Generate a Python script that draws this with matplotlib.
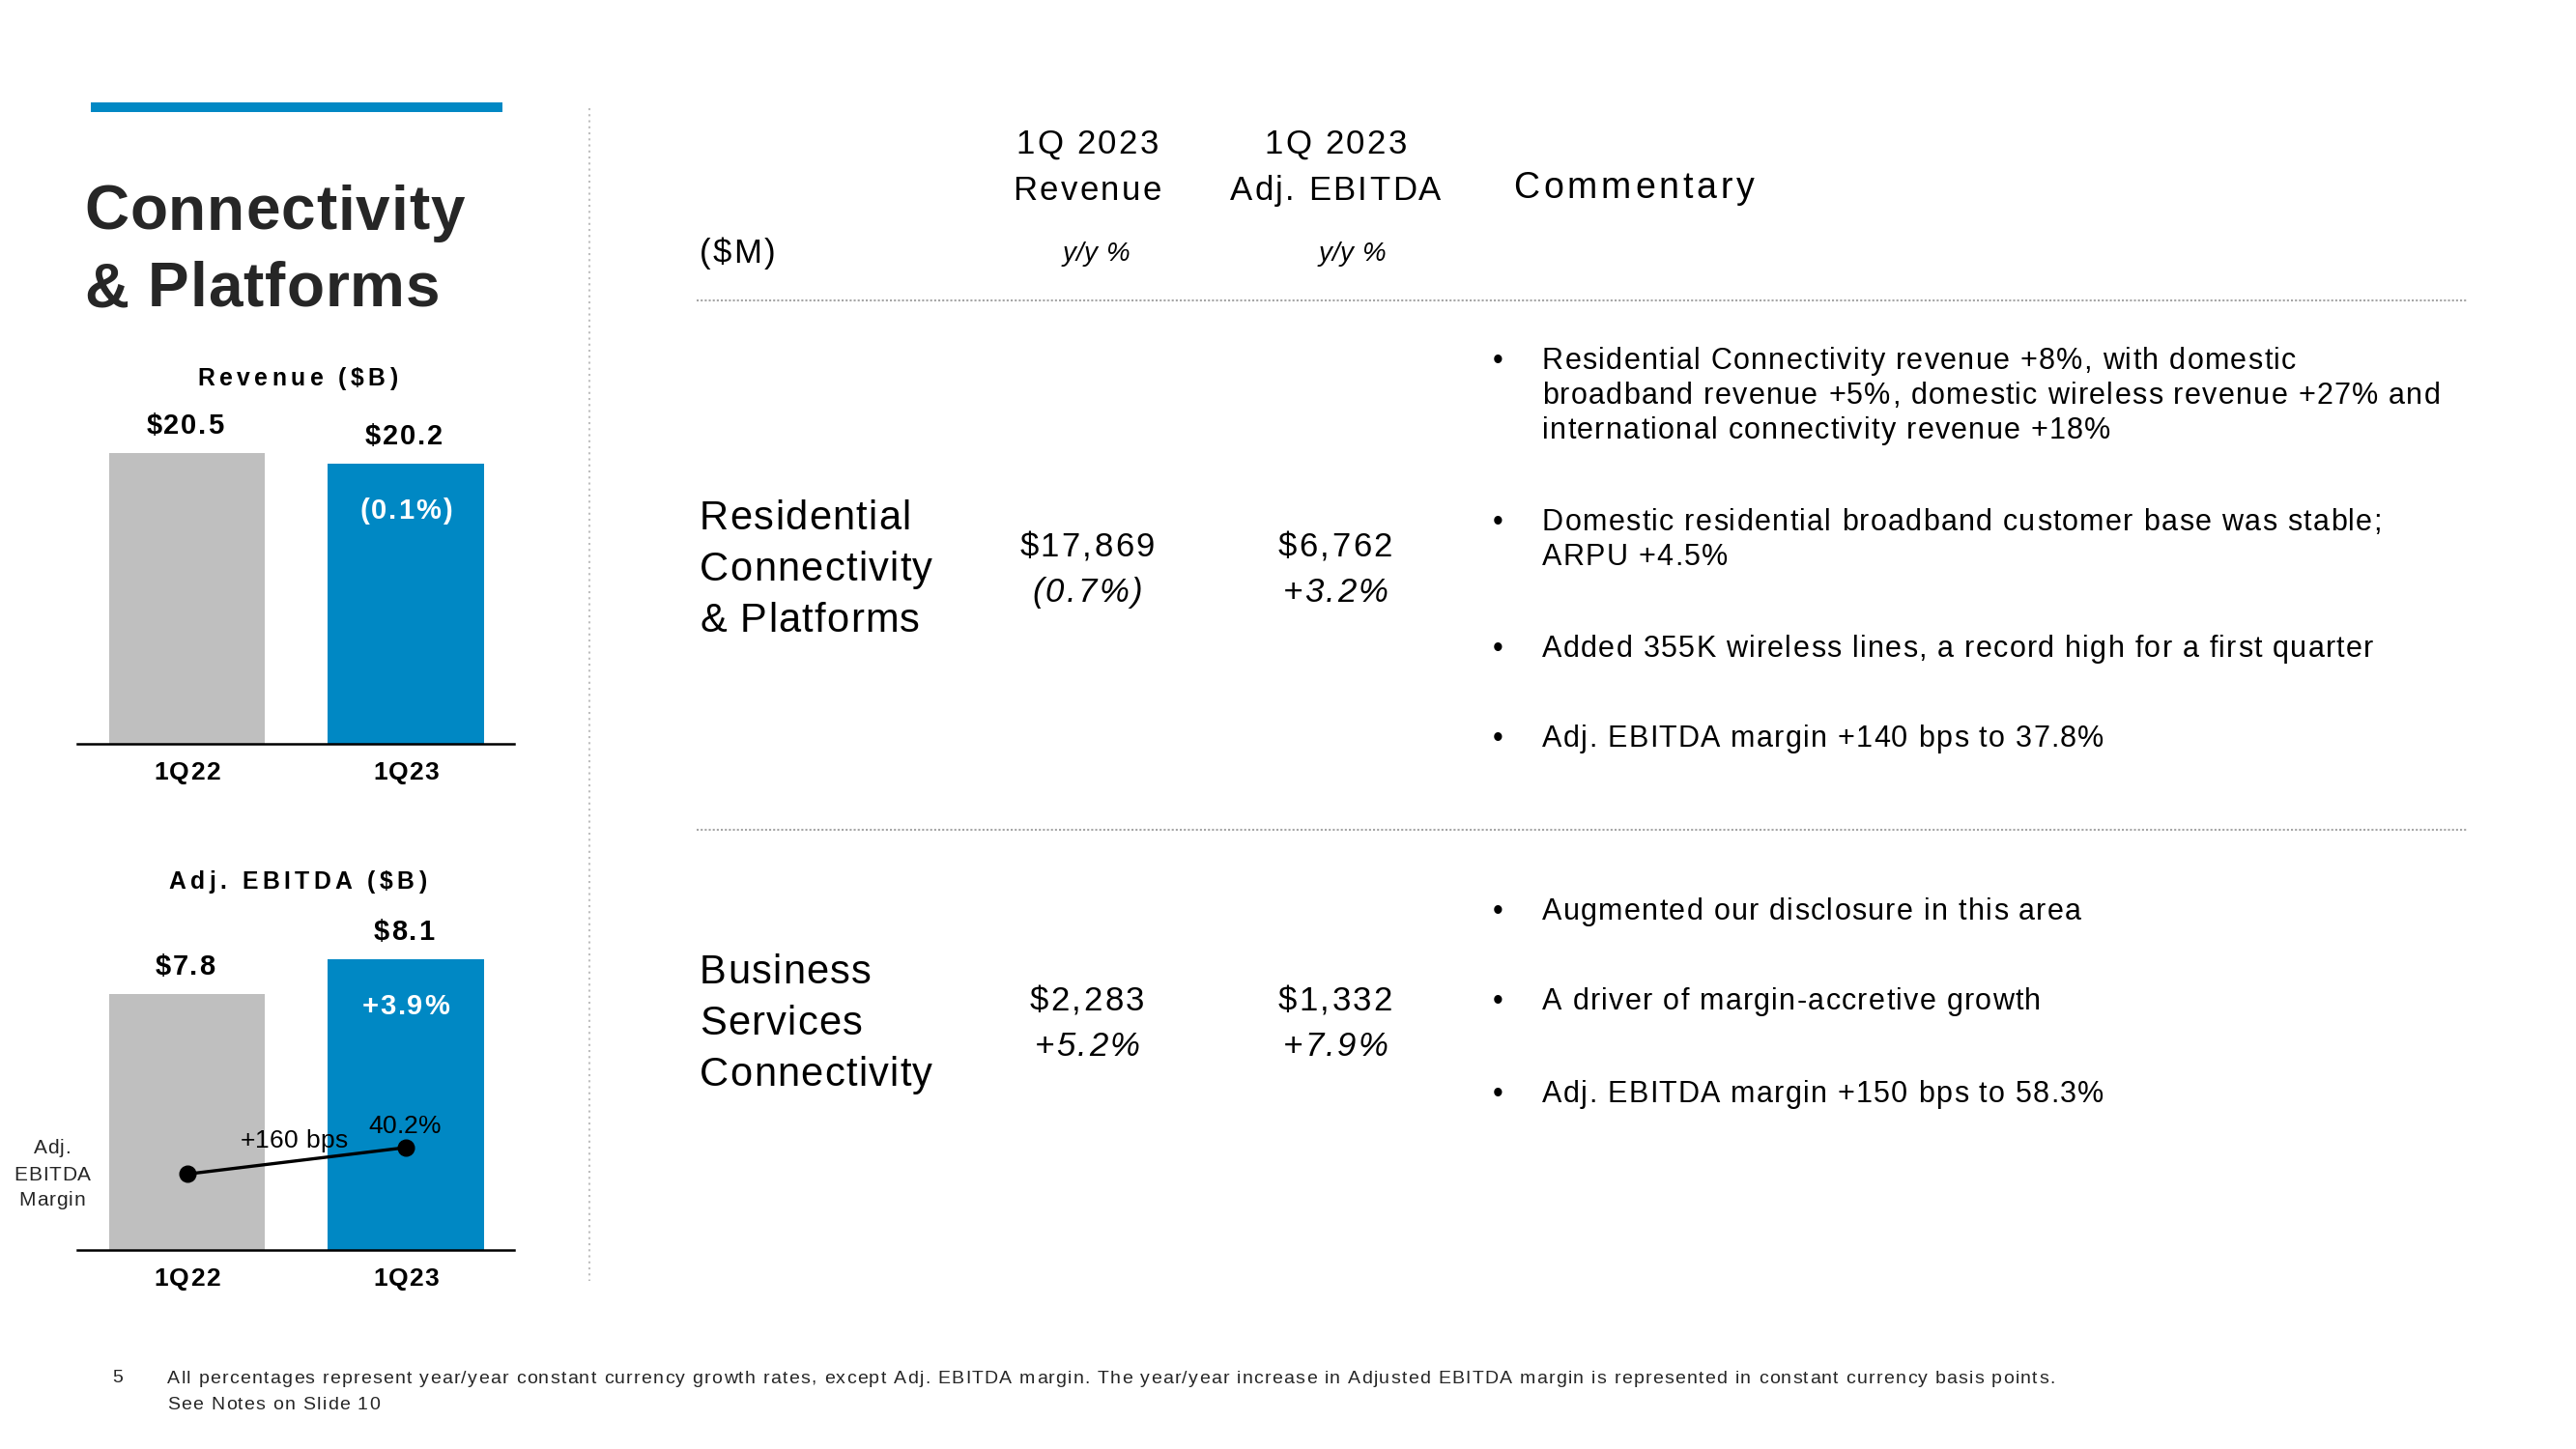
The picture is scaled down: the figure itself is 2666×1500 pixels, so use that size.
import matplotlib
matplotlib.use("Agg")
import matplotlib.pyplot as plt
from matplotlib import font_manager
from matplotlib.ft2font import FT2Font
from matplotlib.transforms import Affine2D, offset_copy
from matplotlib.lines import Line2D
from matplotlib.patches import Rectangle

# ---- data ----
quarters = ['1Q22', '1Q23']
revenue_b = [20.5, 20.2]
revenue_growth = '(0.1%)'
ebitda_b = [7.8, 8.1]
ebitda_growth = '+3.9%'
ebitda_margin = [38.6, 40.2]
margin_change = '+160 bps'

header_cols = [['1Q 2023', 'Revenue'], ['1Q 2023', 'Adj. EBITDA']]
segments = [['Residential', 'Connectivity', '& Platforms'],
            ['Business', 'Services', 'Connectivity']]
seg_revenue = ['$17,869', '$2,283']
seg_revenue_yy = ['(0.7%)', '+5.2%']
seg_ebitda = ['$6,762', '$1,332']
seg_ebitda_yy = ['+3.2%', '+7.9%']
commentary = [
    [['Residential Connectivity revenue +8%, with domestic',
      'broadband revenue +5%, domestic wireless revenue +27% and',
      'international connectivity revenue +18%'],
     ['Domestic residential broadband customer base was stable;',
      'ARPU +4.5%'],
     ['Added 355K wireless lines, a record high for a first quarter'],
     ['Adj. EBITDA margin +140 bps to 37.8%']],
    [['Augmented our disclosure in this area'],
     ['A driver of margin-accretive growth'],
     ['Adj. EBITDA margin +150 bps to 58.3%']],
]
footnote = ['All percentages represent year/year constant currency growth rates, except Adj. EBITDA margin. '
            'The year/year increase in Adjusted EBITDA margin is represented in constant currency basis points.',
            'See Notes on Slide 10']

# ---- style ----
W, H = 2666, 1500
BLUE = '#0088C4'
GREY = '#BFBFBF'
INK = '#000000'
DARK = '#262626'
FAMILY = ['Liberation Sans', 'DejaVu Sans']

fig = plt.figure(figsize=(W / 100, H / 100), dpi=100)
PX = Affine2D().scale(1 / W, -1 / H).translate(0, 1) + fig.transFigure

_fonts = {}


def advances(s, size, weight, style):
    fp = font_manager.FontProperties(family=FAMILY, weight=weight, style=style)
    path = font_manager.findfont(fp)
    if path not in _fonts:
        _fonts[path] = FT2Font(path)
    font = _fonts[path]
    font.set_size(size, 72)
    out = []
    for ch in s:
        g = font.load_char(ord(ch))
        out.append(g.linearHoriAdvance / 65536)
    return out


def spaced(x, y, s, size, track=0.0, weight='normal', style='normal', ha='left',
           color=INK, base=None, dx=0.0, dy=0.0):
    # letter-spaced text, y is the baseline
    base = base if base is not None else PX
    fp = font_manager.FontProperties(family=FAMILY, size=size, weight=weight, style=style)
    adv = advances(s, size, weight, style)
    total = sum(adv) + track * (len(s) - 1)
    pos = dx - {'left': 0, 'center': total / 2, 'right': total}[ha]
    for ch, a in zip(s, adv):
        if not ch.isspace():
            tr = offset_copy(base, fig=fig, x=pos, y=dy, units='points')
            fig.text(x, y, ch, transform=tr, fontproperties=fp, color=color,
                     ha='left', va='baseline')
        pos += a + track


def px_axes(x0, y0, x1, y1):
    return fig.add_axes([x0 / W, 1 - y1 / H, (x1 - x0) / W, (y1 - y0) / H])


def bar_panel(box, values, ylim, growth):
    ax = px_axes(*box)
    xs = range(len(quarters))
    ax.bar(xs, values, width=0.713, color=[GREY, BLUE])
    ax.set_xlim(-0.501, 1.494)
    ax.set_ylim(*ylim)
    for side in ['top', 'right', 'left']:
        ax.spines[side].set_visible(False)
    ax.spines['bottom'].set_linewidth(1.8)
    ax.spines['bottom'].set_color('black')
    ax.set_xticks([])
    ax.set_yticks([])
    ax.patch.set_visible(False)
    for i, v in enumerate(values):
        spaced(i, v, f'${v}', 21, 1.3, weight='bold', ha='center', base=ax.transData, dx=-1.5, dy=14.4)
        spaced(i, 0, quarters[i], 19, 0.8, weight='bold', ha='center',
               base=ax.get_xaxis_transform(), dy=-26.3)
    spaced(1, values[1], growth, 21, 1.3, weight='bold', ha='center', color='white',
           base=ax.transData, dy=-41)
    return ax


# ---- left panel ----
fig.add_artist(Rectangle((94, 106), 426, 10, transform=PX, color=BLUE, lw=0))
spaced(87, 238, 'Connectivity', 46, 0.7, weight='bold', color=DARK)
spaced(87, 317, '& Platforms', 46, 0.7, weight='bold', color=DARK)

spaced(308, 399, 'Revenue ($B)', 17.8, 3.2, weight='bold', ha='center')
bar_panel((80, 420, 532, 770), revenue_b, (12.29, 21.835), revenue_growth)

spaced(308, 920, 'Adj. EBITDA ($B)', 17.8, 3.2, weight='bold', ha='center')
ax_e = bar_panel((80, 940, 532, 1294), ebitda_b, (5.56, 8.552), ebitda_growth)
ax_m = ax_e.twinx()
ax_m.set_ylim(34.03, 54.62)
ax_m.plot(range(len(quarters)), ebitda_margin, color='black', lw=2.4, marker='o', ms=12)
ax_m.axis('off')
spaced(1, ebitda_margin[1], f'{ebitda_margin[1]}%', 19, 0.1, ha='center', base=ax_m.transData, dx=-1, dy=10.8)
spaced(0.5, sum(ebitda_margin) / 2, margin_change, 19, 0.2, ha='center', base=ax_m.transData, dx=-2, dy=10)
for k, word in enumerate(['Adj.', 'EBITDA', 'Margin']):
    spaced(54, 1194.5 + 27 * k, word, 15, 0.7, ha='center', color=DARK)

fig.add_artist(Line2D([610, 610], [112, 1326], transform=PX, color='#BFBFBF', lw=1.5,
                      linestyle=(0, (1, 2))))

# ---- table ----
col_x = [1125, 1382]
for cx, lines in zip(col_x, header_cols):
    spaced(cx, 159, lines[0], 25, 1.7, ha='center')
    spaced(cx, 207, lines[1], 25, 1.7, ha='center')
spaced(1566, 205, 'Commentary', 27, 2.8)
spaced(724, 272, '($M)', 25, 1.7)
spaced(1134, 270, 'y/y %', 20, 0.3, style='italic', ha='center')
spaced(1399, 270, 'y/y %', 20, 0.3, style='italic', ha='center')

for yl in [311, 858.5]:
    fig.add_artist(Line2D([721, 2553], [yl, yl], transform=PX, color='#A6A6A6', lw=1.5,
                          linestyle=(0, (1, 1))))

label_base = [548, 1018]
value_base = [576, 1046]
bullet_base = [[382, 549, 680, 773], [952, 1045, 1141]]
for r in range(len(segments)):
    for k, line in enumerate(segments[r]):
        spaced(724, label_base[r] + 53 * k, line, 30, 0.9)
    spaced(col_x[0], value_base[r], seg_revenue[r], 25, 1.7, ha='center')
    spaced(col_x[0], value_base[r] + 47, seg_revenue_yy[r], 25, 1.7, style='italic', ha='center')
    spaced(col_x[1], value_base[r], seg_ebitda[r], 25, 1.7, ha='center')
    spaced(col_x[1], value_base[r] + 47, seg_ebitda_yy[r], 25, 1.7, style='italic', ha='center')
    for yb, bullet in zip(bullet_base[r], commentary[r]):
        spaced(1550, yb, '\u2022', 22, 0, ha='center')
        for k, line in enumerate(bullet):
            spaced(1596, yb + 36 * k, line, 22, 0.9)

# ---- footer ----
spaced(116, 1431, '5', 14, 0.95, color=DARK)
spaced(173, 1432, footnote[0], 14, 0.95, color=DARK)
spaced(173, 1459, footnote[1], 14, 0.95, color=DARK)

fig.savefig('out.png', dpi=100, facecolor='white')
